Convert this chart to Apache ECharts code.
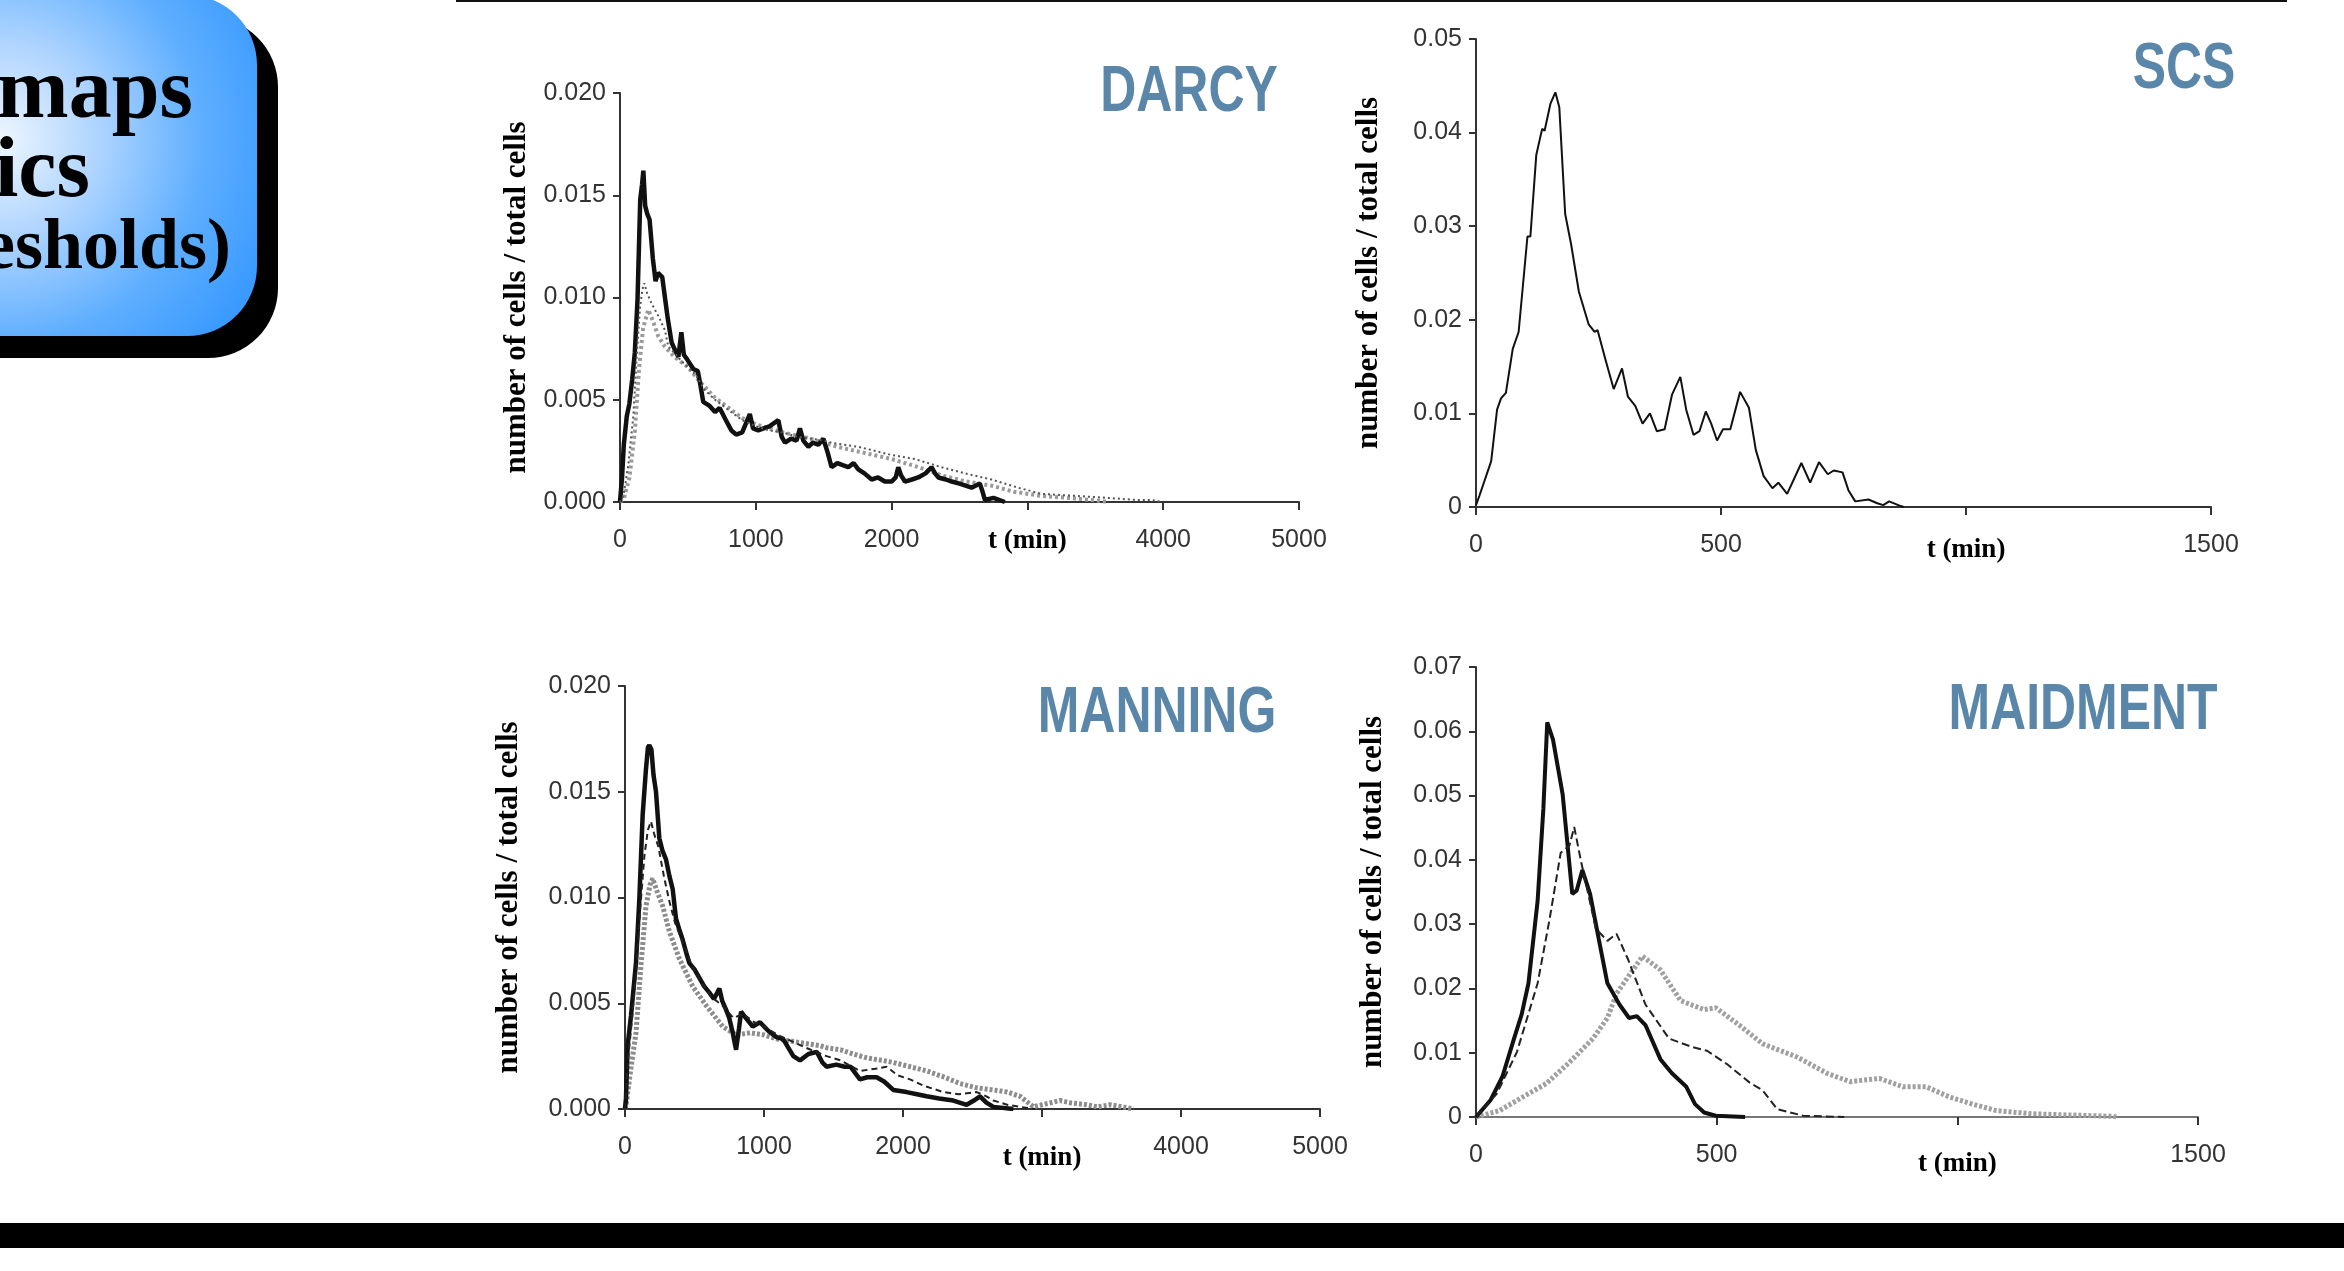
<!DOCTYPE html>
<html>
<head>
<meta charset="utf-8">
<script src="https://cdn.jsdelivr.net/npm/echarts@6/dist/echarts.min.js"></script>
<style>
html, body { margin: 0; padding: 0; background: #fff; }
#main { width: 2344px; height: 1271px; }
</style>
</head>
<body>
<div id="main"></div>
<script>
// ---- data: [t (min), number of cells / total cells] ----
const darcyThick = [[0,0],[15,0.0012],[28,0.0028],[50,0.0042],[69,0.0048],[90,0.0060],[109,0.0073],[129,0.0099],[149,0.0148],[162,0.0155],[172,0.0162],[185,0.0145],[200,0.0141],[218,0.0138],[242,0.0119],[262,0.0108],[280,0.0112],[311,0.0110],[335,0.0098],[351,0.0090],[380,0.0078],[400,0.0075],[430,0.0071],[452,0.0083],[470,0.0072],[492,0.0070],[540,0.0065],[573,0.0064],[590,0.0058],[613,0.0049],[660,0.0047],[700,0.0044],[734,0.0046],[780,0.0040],[820,0.0035],[856,0.0033],[900,0.0034],[956,0.0043],[980,0.0036],[1018,0.0035],[1057,0.0036],[1100,0.0037],[1166,0.0040],[1190,0.0032],[1215,0.0029],[1260,0.0031],[1300,0.0030],[1325,0.0036],[1350,0.0030],[1387,0.0027],[1420,0.0029],[1460,0.0028],[1497,0.0031],[1530,0.0024],[1558,0.0017],[1600,0.0019],[1640,0.0018],[1681,0.0017],[1720,0.0019],[1755,0.0016],[1800,0.0014],[1853,0.0011],[1900,0.0012],[1950,0.0010],[2000,0.0010],[2030,0.0012],[2049,0.0017],[2070,0.0013],[2098,0.0010],[2150,0.0011],[2196,0.0012],[2250,0.0014],[2294,0.0017],[2320,0.0014],[2344,0.0012],[2400,0.0011],[2442,0.0010],[2500,0.0009],[2589,0.0007],[2650,0.0009],[2670,0.0005],[2687,0.0001],[2750,0.0002],[2834,0]];
const darcyDotted = [[0,0],[25,0.0003],[61,0.0018],[98,0.0042],[123,0.0071],[147,0.0095],[165,0.0104],[179,0.0107],[200,0.0102],[233,0.0097],[282,0.0091],[331,0.0084],[355,0.0076],[400,0.0073],[450,0.0069],[500,0.0066],[560,0.0062],[620,0.0055],[700,0.0050],[800,0.0045],[900,0.0040],[1000,0.0037],[1100,0.0035],[1200,0.0034],[1300,0.0032],[1400,0.0031],[1500,0.0030],[1558,0.0029],[1650,0.0028],[1755,0.0027],[1877,0.0025],[2000,0.0023],[2172,0.0021],[2368,0.0017],[2540,0.0014],[2736,0.0011],[2932,0.0007],[3104,0.0004],[3350,0.0003],[3595,0.0002],[3800,0.0001],[3914,0.0001],[3990,0]];
const darcyGrey = [[0,0],[30,0.0002],[70,0.0012],[110,0.0035],[140,0.0065],[170,0.0085],[208,0.0094],[240,0.0089],[282,0.0081],[330,0.0076],[400,0.0071],[500,0.0066],[600,0.0058],[700,0.0051],[800,0.0046],[900,0.0041],[1000,0.0038],[1200,0.0034],[1400,0.0031],[1600,0.0027],[1800,0.0024],[2000,0.0021],[2200,0.0017],[2368,0.0013],[2550,0.0010],[2736,0.0008],[2900,0.0005],[3104,0.0003],[3300,0.0002],[3472,0.0001],[3600,0]];

const scsLine = [[0,0.0002],[7,0.0012],[31,0.0049],[43,0.0104],[51,0.0116],[61,0.0122],[75,0.0169],[87,0.0187],[105,0.0289],[111,0.0289],[123,0.0376],[135,0.0404],[140,0.0402],[152,0.0431],[162,0.0443],[170,0.0427],[182,0.0313],[194,0.0281],[210,0.0230],[230,0.0195],[242,0.0187],[248,0.0189],[265,0.0156],[281,0.0126],[298,0.0148],[310,0.0118],[325,0.0108],[340,0.0089],[355,0.0100],[369,0.0081],[385,0.0083],[400,0.0120],[417,0.0139],[429,0.0104],[444,0.0077],[456,0.0081],[469,0.0102],[480,0.0089],[492,0.0071],[504,0.0083],[519,0.0083],[539,0.0123],[557,0.0106],[571,0.0061],[587,0.0033],[605,0.0020],[617,0.0026],[635,0.0014],[664,0.0047],[682,0.0026],[700,0.0048],[718,0.0035],[730,0.0039],[748,0.0037],[760,0.0018],[774,0.0006],[801,0.0008],[819,0.0004],[831,0.0002],[843,0.0006],[867,0.0001],[873,0]];

const manningThick = [[0,0],[7,0.0005],[19,0.0030],[43,0.0044],[79,0.0069],[103,0.0099],[127,0.0139],[150,0.0160],[165,0.0171],[175,0.0172],[190,0.0170],[205,0.0158],[223,0.0150],[247,0.0128],[270,0.0122],[295,0.0118],[320,0.0110],[343,0.0104],[367,0.0090],[390,0.0085],[415,0.0080],[440,0.0074],[463,0.0069],[500,0.0066],[535,0.0062],[570,0.0058],[607,0.0055],[640,0.0052],[679,0.0057],[700,0.0051],[727,0.0047],[750,0.0043],[775,0.0036],[799,0.0028],[820,0.0038],[835,0.0046],[870,0.0043],[919,0.0039],[971,0.0041],[1030,0.0037],[1090,0.0034],[1138,0.0033],[1211,0.0025],[1259,0.0023],[1320,0.0026],[1380,0.0027],[1420,0.0022],[1450,0.0020],[1520,0.0021],[1580,0.0020],[1622,0.0020],[1690,0.0014],[1743,0.0015],[1810,0.0015],[1864,0.0013],[1930,0.0009],[2026,0.0008],[2100,0.0007],[2170,0.0006],[2260,0.0005],[2362,0.0004],[2458,0.0002],[2510,0.0004],[2554,0.0006],[2600,0.0003],[2650,0.0001],[2794,0]];
const manningDashed = [[0,0],[20,0.0022],[50,0.0042],[80,0.0065],[110,0.0095],[140,0.0120],[165,0.0132],[187,0.0136],[210,0.0130],[240,0.0124],[283,0.0109],[320,0.0098],[360,0.0088],[420,0.0078],[480,0.0068],[550,0.0060],[620,0.0053],[700,0.0049],[780,0.0043],[850,0.0045],[930,0.0041],[1000,0.0039],[1100,0.0035],[1200,0.0032],[1300,0.0029],[1450,0.0025],[1550,0.0023],[1690,0.0018],[1800,0.0019],[1882,0.0020],[1960,0.0016],[2050,0.0014],[2150,0.0011],[2290,0.0008],[2400,0.0007],[2530,0.0008],[2600,0.0006],[2650,0.0004],[2750,0.0002],[2842,0.0001],[2950,0]];
const manningGrey = [[0,0],[10,0.0003],[40,0.0018],[79,0.0036],[115,0.0068],[151,0.0096],[180,0.0106],[199,0.0109],[230,0.0103],[271,0.0096],[319,0.0084],[391,0.0071],[487,0.0058],[583,0.0049],[703,0.0039],[800,0.0035],[900,0.0036],[1000,0.0035],[1100,0.0033],[1200,0.0032],[1300,0.0031],[1400,0.0030],[1450,0.0029],[1550,0.0028],[1642,0.0026],[1750,0.0024],[1850,0.0023],[1930,0.0022],[2050,0.0020],[2170,0.0018],[2300,0.0015],[2410,0.0012],[2530,0.0010],[2650,0.0009],[2750,0.0008],[2842,0.0006],[2900,0.0003],[2938,0.0001],[3000,0.0002],[3130,0.0004],[3200,0.0003],[3322,0.0002],[3400,0.0001],[3490,0.0002],[3580,0.0001],[3658,0]];

const maidmentThick = [[0,0],[30,0.0026],[55,0.0063],[79,0.0122],[95,0.0160],[109,0.0208],[128,0.0336],[140,0.0480],[148,0.0614],[160,0.0587],[180,0.0502],[200,0.0347],[209,0.0352],[221,0.0384],[237,0.0347],[255,0.0277],[273,0.0208],[298,0.0175],[318,0.0154],[334,0.0157],[352,0.0143],[383,0.0090],[407,0.0068],[437,0.0047],[455,0.0020],[474,0.0007],[498,0.0002],[559,0]];
const maidmentDashed = [[0,0],[43,0.0036],[85,0.0101],[128,0.0208],[152,0.0304],[176,0.0411],[194,0.0422],[204,0.0451],[219,0.0395],[249,0.0293],[273,0.0274],[292,0.0285],[316,0.0245],[352,0.0175],[401,0.0122],[449,0.0109],[480,0.0103],[522,0.0082],[571,0.0052],[595,0.0042],[626,0.0012],[680,0.0002],[765,0]];
const maidmentGrey = [[0,0],[49,0.0010],[97,0.0031],[146,0.0052],[194,0.0085],[243,0.0122],[273,0.0154],[292,0.0192],[316,0.0218],[346,0.0250],[383,0.0229],[425,0.0181],[474,0.0167],[498,0.0170],[547,0.0143],[595,0.0114],[668,0.0093],[729,0.0068],[777,0.0055],[838,0.0060],[887,0.0047],[935,0.0047],[984,0.0031],[1032,0.0020],[1081,0.0010],[1154,0.0005],[1239,0.0003],[1324,0.0001],[1330,0]];

const panelTitles = ['DARCY', 'SCS', 'MANNING', 'MAIDMENT'];
const yName = 'number of cells / total cells';
const xName = 't (min)';

// ---- chart ----
let myChart = echarts.init(document.getElementById('main'));

const serif = '"Liberation Serif", "DejaVu Serif", serif';
const sans = '"Liberation Sans", Arial, sans-serif';

let xAxisOf = (gridIndex, max, interval, namePos, nameOffset, lineColor) => ({
    type: 'value',
    gridIndex: gridIndex,
    min: 0,
    max: max,
    interval: interval,
    splitLine: { show: false },
    axisLine: { show: true, lineStyle: { color: lineColor || '#333', width: 2 } },
    axisTick: { show: true, length: 8, lineStyle: { color: '#333', width: 2 } },
    axisLabel: {
        margin: 26,
        fontFamily: sans,
        fontSize: 25,
        color: '#333',
        formatter: v => v === namePos ? '{t|' + xName + '}' : String(v),
        rich: {
            t: { fontFamily: serif, fontWeight: 'bold', fontSize: 27, color: '#000', padding: [nameOffset, 0, 0, 0] }
        }
    }
});

let yAxisOf = (gridIndex, max, interval, digits, gap) => ({
    type: 'value',
    gridIndex: gridIndex,
    min: 0,
    max: max,
    interval: interval,
    splitLine: { show: false },
    axisLine: { show: true, lineStyle: { color: '#333', width: 2 } },
    axisTick: { show: true, length: 7, lineStyle: { color: '#333', width: 2 } },
    axisLabel: {
        margin: 14,
        fontFamily: sans,
        fontSize: 25,
        color: '#333',
        formatter: v => digits === 3 ? v.toFixed(3) : (v === 0 ? '0' : v.toFixed(2))
    },
    name: yName,
    nameLocation: 'middle',
    nameGap: gap,
    nameTextStyle: { fontFamily: serif, fontWeight: 'bold', fontSize: 31, color: '#000' }
});

let lineSeries = (idx, data, color, width, type, z) => ({
    type: 'line',
    xAxisIndex: idx,
    yAxisIndex: idx,
    data: data,
    showSymbol: false,
    symbol: 'none',
    z: z,
    lineStyle: { color: color, width: width, type: type }
});

let titleText = (text, x, y) => ({
    type: 'text',
    x: x,
    y: y,
    scaleX: 0.78,
    style: {
        text: text,
        x: 0,
        y: 0,
        fill: '#5a87a9',
        font: 'bold 64px "Liberation Sans", Arial, sans-serif',
        textAlign: 'center',
        textVerticalAlign: 'middle'
    }
});

let boxText = (text, x, y, size) => ({
    type: 'text',
    style: {
        text: text,
        x: x,
        y: y,
        fill: '#000',
        font: 'bold ' + size + 'px ' + serif,
        textAlign: 'right',
        textVerticalAlign: 'middle'
    }
});

let option = {
    animation: false,
    backgroundColor: '#fff',
    grid: [
        { left: 620, top: 93, width: 679, height: 409 },
        { left: 1476, top: 39, width: 735, height: 468 },
        { left: 625, top: 686, width: 695, height: 423 },
        { left: 1476, top: 667, width: 722, height: 450 }
    ],
    xAxis: [
        xAxisOf(0, 5000, 1000, 3000, 0),
        xAxisOf(1, 1500, 500, 1000, 4),
        xAxisOf(2, 5000, 1000, 3000, 10),
        xAxisOf(3, 1500, 500, 1000, 8, '#777')
    ],
    yAxis: [
        yAxisOf(0, 0.02, 0.005, 3, 88),
        yAxisOf(1, 0.05, 0.01, 2, 92),
        yAxisOf(2, 0.02, 0.005, 3, 101),
        yAxisOf(3, 0.07, 0.01, 2, 88)
    ],
    series: [
        lineSeries(0, darcyGrey, '#9a9a9a', 4, [3, 3], 2),
        lineSeries(0, darcyThick, '#111', 4.5, 'solid', 3),
        lineSeries(0, darcyDotted, '#555', 2, [2, 3], 4),
        lineSeries(1, scsLine, '#111', 2, 'solid', 3),
        lineSeries(2, manningGrey, '#8c8c8c', 5, [3, 2], 2),
        lineSeries(2, manningThick, '#111', 4.5, 'solid', 3),
        lineSeries(2, manningDashed, '#222', 2, [6, 4], 4),
        lineSeries(3, maidmentGrey, '#a0a0a0', 5, [3, 2], 2),
        lineSeries(3, maidmentThick, '#111', 4, 'solid', 3),
        lineSeries(3, maidmentDashed, '#222', 2, [8, 4], 4)
    ],
    graphic: [
        // slide decoration
        { type: 'rect', shape: { x: -279, y: 17, width: 557, height: 341, r: 70 }, style: { fill: '#000' } },
        {
            type: 'rect',
            shape: { x: -300, y: -5, width: 557, height: 341, r: 70 },
            style: {
                fill: new echarts.graphic.RadialGradient(0, 140, 290, [
                    { offset: 0, color: '#eef6ff' },
                    { offset: 0.35, color: '#acd3ff' },
                    { offset: 0.7, color: '#5eaeff' },
                    { offset: 1, color: '#3a9aff' }
                ], true)
            }
        },
        boxText('maps', 193, 95, 86),
        boxText('ics', 90, 174, 86),
        boxText('esholds)', 231, 249, 72),
        { type: 'rect', shape: { x: 456, y: 0, width: 1831, height: 2 }, style: { fill: '#111' } },
        { type: 'rect', shape: { x: 0, y: 1223, width: 2344, height: 25 }, style: { fill: '#000' } },
        titleText(panelTitles[0], 1189, 93),
        titleText(panelTitles[1], 2184, 70),
        titleText(panelTitles[2], 1157, 714),
        titleText(panelTitles[3], 2083, 711)
    ]
};

myChart.setOption(option);
window.onresize = function () {
    myChart.resize();
};
</script>
</body>
</html>
